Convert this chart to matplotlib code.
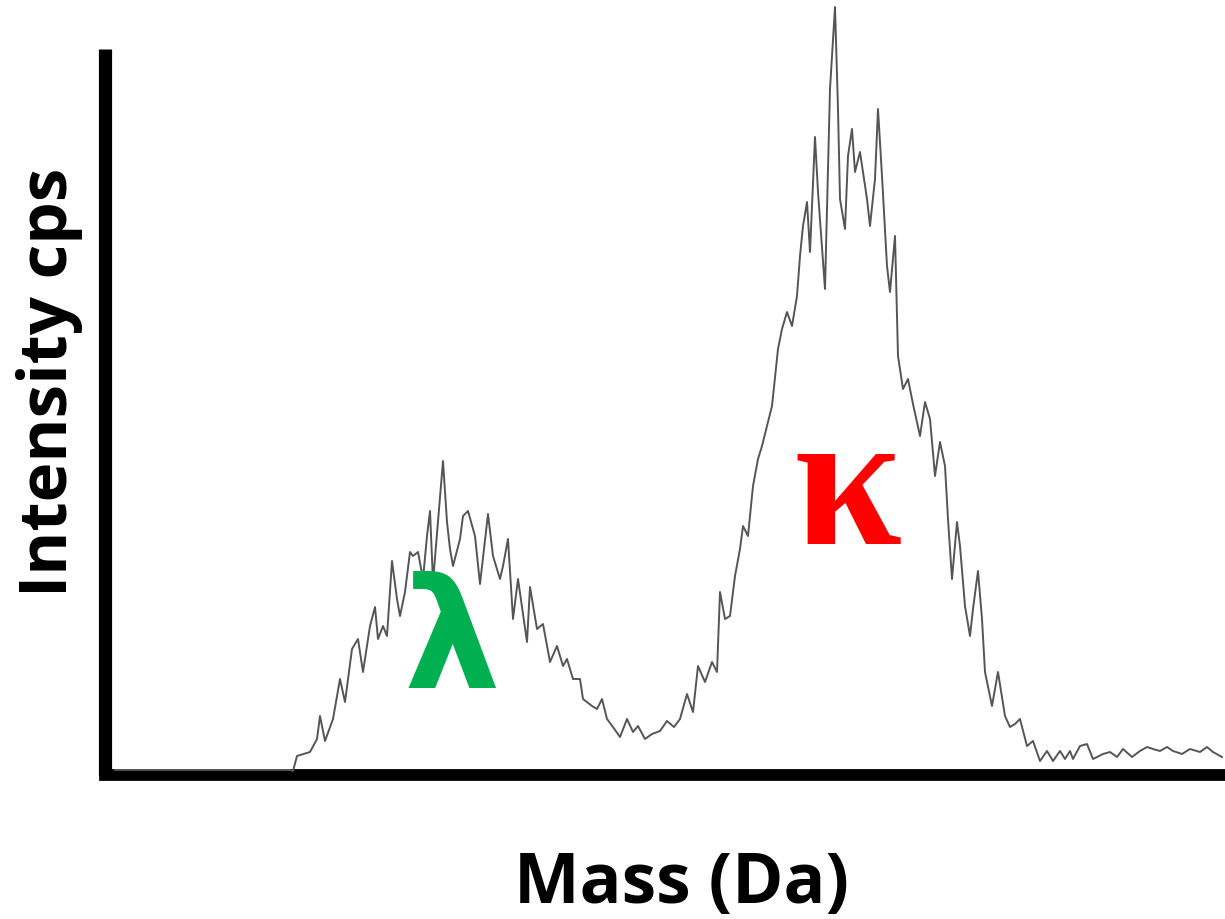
import matplotlib
matplotlib.use("Agg")
import matplotlib.pyplot as plt

# mass axis (arbitrary units, no ticks) and intensity
mass = [
    115, 200, 290, 293, 297, 310, 317, 320, 325, 333, 340, 345, 352, 358, 363,
    370, 375, 378, 383, 387, 392, 397, 400, 405, 410, 413, 418, 423, 427, 430,
    433, 438, 443, 447, 450, 453, 460, 463, 468, 475, 480, 488, 493, 500, 503,
    508, 513, 518, 527, 530, 537, 543, 550, 557, 563, 567, 573, 580, 583, 592,
    597, 602, 607, 613, 620, 627, 633, 638, 645, 652, 660, 667, 674, 680, 687,
    693, 698, 705, 712, 717, 720, 725, 730, 735, 740, 743, 748, 753, 758, 762,
    767, 772, 778, 782, 787, 792, 797, 800, 803, 807, 810, 815, 818, 825, 830,
    835, 838, 840, 845, 848, 852, 855, 860, 867, 870, 875, 878, 882, 887, 890,
    895, 898, 903, 908, 913, 920, 925, 930, 935, 940, 945, 948, 952, 957, 960,
    965, 970, 973, 978, 982, 985, 992, 998, 1005, 1010, 1015, 1020, 1027, 1033,
    1040, 1047, 1053, 1060, 1065, 1070, 1073, 1080, 1087, 1093, 1103, 1110,
    1117, 1123, 1132, 1140, 1147, 1153, 1160, 1167, 1173, 1182, 1190, 1200,
    1207, 1213, 1222,
]
intensity = [
    -1, -1, -1, -2, 13, 17, 30, 53, 28, 50, 90, 67, 120, 130, 97,
    143, 162, 130, 143, 133, 208, 170, 153, 177, 217, 213, 217, 190, 233, 258,
    187, 247, 308, 247, 220, 203, 230, 253, 258, 233, 185, 255, 213, 190, 203,
    230, 150, 190, 127, 182, 140, 145, 107, 123, 103, 110, 90, 90, 70, 63,
    60, 70, 50, 42, 32, 50, 37, 43, 30, 35, 38, 48, 42, 50, 75,
    57, 103, 87, 107, 97, 177, 150, 153, 193, 220, 243, 233, 283, 310, 323,
    343, 363, 420, 440, 457, 443, 473, 513, 543, 567, 517, 632, 577, 480, 680,
    762, 660, 570, 540, 613, 640, 597, 617, 570, 543, 590, 660, 593, 503, 477,
    533, 413, 380, 390, 365, 333, 367, 350, 293, 327, 303, 250, 190, 247, 223,
    163, 133, 160, 198, 150, 97, 63, 97, 53, 42, 45, 50, 23, 28,
    8, 18, 8, 18, 10, 18, 10, 23, 25, 10, 15, 17,
    12, 20, 12, 18, 22, 20, 18, 22, 18, 15, 20, 17,
    22, 17, 12,
]

lambda_pos = (452, 124)
kappa_pos = (847, 273)

fig = plt.figure(figsize=(12.25, 9.2), dpi=100)
ax = fig.add_axes([105 / 1225, 1 - 776 / 920, 1 - 105 / 1225, (776 - 50) / 920])

ax.plot(mass, intensity, color="#555555", lw=1.4, clip_on=False, zorder=3)

ax.set_xlim(105, 1225)
ax.set_ylim(-6, 720)
ax.set_xticks([])
ax.set_yticks([])
for side in ("top", "right"):
    ax.spines[side].set_visible(False)
ax.spines["left"].set_linewidth(9.5)
ax.spines["bottom"].set_linewidth(8.5)
ax.spines["left"].set_capstyle("butt")

ax.text(*lambda_pos, "λ", color="#00B050", fontsize=110, fontweight="bold",
        family="DejaVu Sans", ha="center", va="center")
ax.text(*kappa_pos, "κ", color="#FF0000", fontsize=140, fontweight="bold",
        family="Liberation Serif", ha="center", va="center")

fig.text(50 / 1225, 1 - 382 / 920, "Intensity cps", rotation=90,
         fontsize=48.5, fontweight="bold", family="Open Sans",
         ha="center", va="center")
fig.text(682 / 1225, 1 - 885 / 920, "Mass (Da)",
         fontsize=50, fontweight="bold", family="Open Sans",
         ha="center", va="center")

fig.savefig("out.png", dpi=100)
